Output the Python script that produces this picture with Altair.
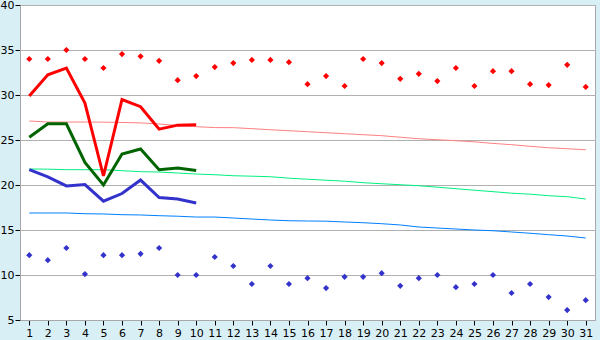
import altair as alt
import pandas as pd

days = list(range(1, 32))
obs_days = list(range(1, 11))

max_pts = [34.0, 34.0, 35.0, 34.0, 33.0, 34.55, 34.3, 33.8, 31.65, 32.1,
           33.1, 33.55, 33.9, 33.9, 33.65, 31.2, 32.1, 31.0, 34.0, 33.55,
           31.8, 32.35, 31.55, 33.0, 31.0, 32.65, 32.65, 31.2, 31.1, 33.35, 30.9]
min_pts = [12.2, 11.65, 13.0, 10.1, 12.2, 12.2, 12.35, 13.0, 10.0, 10.0,
           12.0, 11.0, 9.0, 11.0, 9.0, 9.65, 8.55, 9.8, 9.8, 10.2,
           8.8, 9.65, 10.0, 8.65, 9.0, 10.0, 8.0, 9.0, 7.55, 6.1, 7.2]

red_line = [29.9, 32.25, 33.0, 29.1, 21.0, 29.5, 28.7, 26.2, 26.65, 26.7]
green_line = [25.3, 26.8, 26.8, 22.5, 20.0, 23.45, 24.0, 21.7, 21.9, 21.6]
blue_line = [21.7, 20.9, 19.9, 20.05, 18.2, 19.05, 20.55, 18.6, 18.45, 18.0]

pink_norm = [27.11, 27.0, 27.0, 27.0, 26.98, 26.95, 26.9, 26.78, 26.6, 26.48,
             26.38, 26.37, 26.26, 26.14, 26.03, 25.92, 25.81, 25.7, 25.59, 25.48,
             25.31, 25.14, 25.03, 24.92, 24.8, 24.62, 24.48, 24.3, 24.14, 24.03, 23.92]
green_norm = [21.78, 21.76, 21.7, 21.7, 21.7, 21.59, 21.48, 21.44, 21.33, 21.22,
              21.14, 21.03, 20.98, 20.92, 20.76, 20.64, 20.53, 20.42, 20.26, 20.14,
              20.03, 19.92, 19.76, 19.59, 19.42, 19.26, 19.09, 18.98, 18.81, 18.7, 18.44]
blue_norm = [16.89, 16.89, 16.89, 16.81, 16.78, 16.7, 16.67, 16.59, 16.53, 16.44,
             16.44, 16.33, 16.22, 16.11, 16.03, 16.0, 15.98, 15.89, 15.81, 15.7,
             15.56, 15.33, 15.22, 15.11, 15.0, 14.92, 14.78, 14.64, 14.48, 14.33, 14.11]

full = pd.DataFrame({"day": days, "max_pts": max_pts, "min_pts": min_pts,
                     "pink": pink_norm, "gnorm": green_norm, "bnorm": blue_norm})
obs = pd.DataFrame({"day": obs_days, "red": red_line, "green": green_line, "blue": blue_line})

xs = alt.X("day:Q", scale=alt.Scale(domain=[0.5, 31.5], nice=False, zero=False),
           axis=alt.Axis(values=days, title=None, grid=False, tickSize=5,
                         labelFontSize=11, labelPadding=2, domain=True))
ys_axis = alt.Axis(values=[5, 10, 15, 20, 25, 30, 35, 40], title=None, grid=True,
                   tickSize=5, labelPadding=1, labelFontSize=11)
yscale = alt.Scale(domain=[5, 40], nice=False, zero=False)


def line(df, field, color, width):
    return alt.Chart(df).mark_line(color=color, strokeWidth=width, strokeJoin="miter").encode(
        x=xs, y=alt.Y(f"{field}:Q", scale=yscale, axis=ys_axis))


def pts(field, color):
    return alt.Chart(full).mark_point(shape="diamond", filled=True, size=38, color=color, opacity=1).encode(
        x=xs, y=alt.Y(f"{field}:Q", scale=yscale, axis=ys_axis))


chart = alt.layer(
    line(full, "pink", "#FF8080", 1),
    line(full, "gnorm", "#00F080", 1),
    line(full, "bnorm", "#0080FF", 1),
    line(obs, "red", "#FF0000", 3),
    line(obs, "green", "#006400", 3),
    line(obs, "blue", "#3333CC", 3),
    pts("max_pts", "#FF0000"),
    pts("min_pts", "#3333CC"),
).properties(
    width=575, height=315,
    autosize=alt.AutoSizeParams(type="none"),
    padding={"left": 20, "top": 5, "right": 5, "bottom": 20},
    background="#D9EFF6",
).configure_view(
    fill="white", stroke="#A8A8A8", strokeWidth=1
).configure_axis(
    labelFont="DejaVu Sans", labelColor="black", domainColor="#A8A8A8",
    tickColor="#000000", gridColor="#B0B0B0", labelFontSize=11
)

chart.save("out.html", embed_options={"renderer": "svg", "actions": False})
